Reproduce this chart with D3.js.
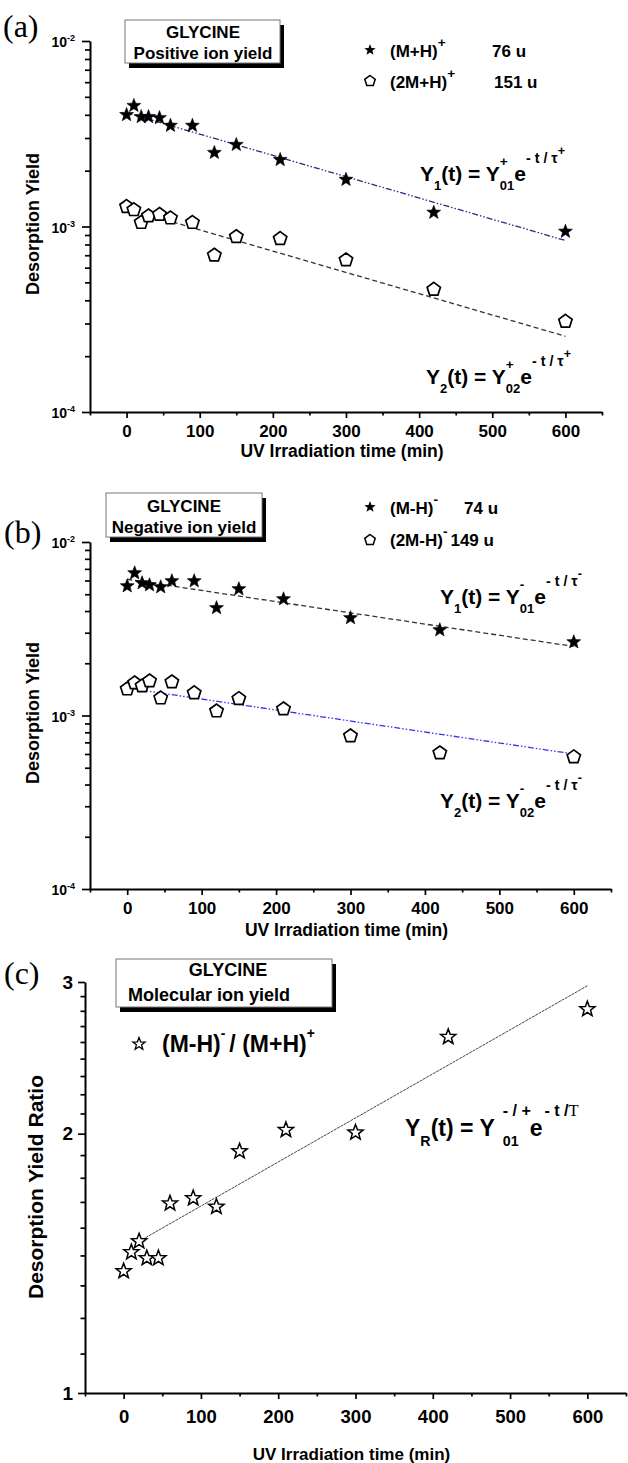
<!DOCTYPE html>
<html>
<head>
<meta charset="utf-8">
<script src="https://cdn.jsdelivr.net/npm/d3@7"></script>
<style>
  body { margin: 0; background: #fff; }
  svg text { font-family: "Liberation Sans", Arial, sans-serif; font-weight: bold; fill: #000; }
  .domain { stroke: #000; stroke-width: 2; }
  .tick line { stroke: #000; stroke-width: 1.7; }
</style>
</head>
<body>
<div id="chart"></div>
<script>
// irradiation times (min), shared by all series
const TIME = [0, 10, 20, 30, 45, 60, 90, 120, 150, 210, 300, 420, 600];

// (a) positive ions
const POS_MONO = [4.0e-3, 4.48e-3, 3.9e-3, 3.9e-3, 3.85e-3, 3.5e-3, 3.5e-3, 2.5e-3, 2.76e-3, 2.29e-3, 1.79e-3, 1.19e-3, 0.94e-3];
const POS_DIMER = [1.28e-3, 1.23e-3, 1.05e-3, 1.14e-3, 1.16e-3, 1.11e-3, 1.05e-3, 0.70e-3, 0.88e-3, 0.86e-3, 0.66e-3, 0.458e-3, 0.308e-3];
const FIT_POS_MONO = [[0, 4.1e-3], [600, 0.84e-3]];
const FIT_POS_DIMER = [[0, 1.25e-3], [600, 0.256e-3]];

// (b) negative ions
const NEG_MONO = [5.57e-3, 6.62e-3, 5.8e-3, 5.65e-3, 5.5e-3, 5.96e-3, 5.96e-3, 4.17e-3, 5.36e-3, 4.69e-3, 3.65e-3, 3.11e-3, 2.65e-3];
const NEG_DIMER = [1.42e-3, 1.54e-3, 1.48e-3, 1.58e-3, 1.26e-3, 1.56e-3, 1.35e-3, 1.06e-3, 1.25e-3, 1.09e-3, 0.762e-3, 0.608e-3, 0.577e-3];
const FIT_NEG_MONO = [[0, 6.1e-3], [600, 2.5e-3]];
const FIT_NEG_DIMER = [[0, 1.44e-3], [600, 0.6e-3]];

// (c) ratio (M-H)- / (M+H)+
const RATIO = [1.385, 1.457, 1.50, 1.434, 1.434, 1.66, 1.683, 1.645, 1.908, 2.02, 2.006, 2.59, 2.79];
const FIT_RATIO = [[20, 1.50], [600, 2.97]];

// ticks
const X_MAJOR = [0, 100, 200, 300, 400, 500, 600];
const X_MINOR = [-50, 50, 150, 250, 350, 450, 550, 650];
const LOG_MAJOR = [1e-4, 1e-3, 1e-2];
const LOG_EXP = ["-4", "-3", "-2"];
const LOG_MINOR = [2e-4, 3e-4, 4e-4, 5e-4, 6e-4, 7e-4, 8e-4, 9e-4, 2e-3, 3e-3, 4e-3, 5e-3, 6e-3, 7e-3, 8e-3, 9e-3];
const RATIO_MAJOR = [1, 2, 3];
const RATIO_MINOR = d3.range(1, 9).flatMap(k => [1 + k / 9, 2 + k / 9]);

const svg = d3.select("#chart").append("svg")
  .attr("width", 628)
  .attr("height", 1463);

// marker shapes
function starPath(R) {
  const pts = d3.range(10).map(i => {
    const r = i % 2 ? R * 0.42 : R;
    const a = -Math.PI / 2 + i * Math.PI / 5;
    return [r * Math.cos(a), r * Math.sin(a)];
  });
  return "M" + pts.join("L") + "Z";
}
function pentPath(R) {
  const pts = d3.range(5).map(i => {
    const a = -Math.PI / 2 + i * 2 * Math.PI / 5;
    return [R * Math.cos(a), R * Math.sin(a)];
  });
  return "M" + pts.join("L") + "Z";
}

// text with sub/superscripts laid out left to right
function richText(g, x, y, size, parts) {
  let cx = x, lastStart = x;
  parts.forEach(p => {
    const start = p.stack ? lastStart : cx;
    const t = g.append("text")
      .attr("x", start)
      .attr("y", y + (p.dy || 0) * size)
      .attr("font-size", size * (p.f || 1))
      .text(p.s);
    if (p.serif) t.style("font-family", "'Liberation Serif', 'Times New Roman', serif").style("font-weight", "normal");
    lastStart = start;
    cx = start + t.node().getComputedTextLength() + (p.gap || 0);
  });
}

function glycineBox(g, x, y, w, h, lines) {
  g.append("rect").attr("x", x + 4).attr("y", y + 5).attr("width", w).attr("height", h).attr("fill", "#000");
  g.append("rect").attr("x", x).attr("y", y).attr("width", w).attr("height", h)
    .attr("fill", "#fff").attr("stroke", "#777").attr("stroke-width", 1);
  lines.forEach(l => {
    g.append("text").attr("x", l.x).attr("y", l.y).attr("font-size", l.size)
      .attr("text-anchor", l.anchor || "middle").text(l.text);
  });
}

function panelLabel(txt, x, y) {
  svg.append("text").attr("x", x).attr("y", y).attr("font-size", 32)
    .style("font-family", "'Liberation Serif', 'Times New Roman', serif").style("font-weight", "normal")
    .text(txt);
}

function xAxis(x, yPos, labelBase, labelSize, titleBase, titleSize) {
  const maj = svg.append("g").attr("transform", `translate(0,${yPos})`)
    .call(d3.axisBottom(x).tickValues(X_MAJOR).tickSize(6).tickSizeOuter(0)
      .tickPadding(labelBase - 6 - labelSize * 0.71).tickFormat(d3.format("d")));
  maj.selectAll("text").attr("font-size", labelSize).attr("font-family", null);
  svg.append("g").attr("transform", `translate(0,${yPos})`)
    .call(d3.axisBottom(x).tickValues(X_MINOR).tickSize(3.5).tickFormat(""))
    .select(".domain").remove();
  const [r0, r1] = x.range();
  svg.append("text").attr("x", (r0 + r1) / 2 - 4).attr("y", yPos + titleBase)
    .attr("font-size", titleSize).attr("text-anchor", "middle")
    .text("UV Irradiation time (min)");
}

function yTitle(txt, x, y, size) {
  svg.append("text").attr("transform", `translate(${x},${y}) rotate(-90)`)
    .attr("font-size", size).attr("text-anchor", "middle").text(txt);
}

function logYAxis(y, xPos) {
  svg.append("g").attr("transform", `translate(${xPos},0)`)
    .call(d3.axisLeft(y).tickValues(LOG_MAJOR).tickSize(8).tickSizeOuter(0).tickFormat(""));
  svg.append("g").attr("transform", `translate(${xPos},0)`)
    .call(d3.axisLeft(y).tickValues(LOG_MINOR).tickSize(5).tickFormat(""))
    .select(".domain").remove();
  LOG_MAJOR.forEach((v, i) => {
    const t = svg.append("text").attr("x", xPos - 15).attr("y", y(v) + 6)
      .attr("font-size", 14).attr("text-anchor", "end");
    t.append("tspan").text("10");
    t.append("tspan").attr("dy", -6).attr("font-size", 9).text(LOG_EXP[i]);
  });
}

function drawSeries(g, x, y, vals, shape) {
  g.selectAll(null).data(d3.zip(TIME, vals)).join("path")
    .attr("transform", d => `translate(${x(d[0])},${y(d[1])})`)
    .attr("d", shape.d)
    .attr("fill", shape.fill)
    .attr("stroke", "#000")
    .attr("stroke-width", shape.sw);
}

function drawFit(g, x, y, pts, color, dash, w) {
  g.append("path").datum(pts)
    .attr("d", d3.line().x(d => x(d[0])).y(d => y(d[1])))
    .attr("fill", "none").attr("stroke", color)
    .attr("stroke-width", w).attr("stroke-dasharray", dash);
}

const FILLED_STAR = { d: starPath(7.3), fill: "#000", sw: 0.6 };
const OPEN_PENT = { d: pentPath(7), fill: "#fff", sw: 1.7 };
const OPEN_STAR = { d: starPath(8), fill: "#fff", sw: 1.5 };

// ---------- (a) ----------
{
  const x = d3.scaleLinear().domain([-50, 650]).range([90, 602]);
  const y = d3.scaleLog().domain([1e-4, 1e-2]).range([412, 41]);
  panelLabel("(a)", 3, 37);
  logYAxis(y, 90);
  xAxis(x, 412, 25, 17, 45, 17.5);
  yTitle("Desorption Yield", 39, 224, 18);
  const g = svg.append("g");
  drawFit(g, x, y, FIT_POS_MONO, "#2a2a88", "6,2,1.5,2,1.5,2", 1.3);
  drawFit(g, x, y, FIT_POS_DIMER, "#333", "5,3", 1.3);
  drawSeries(g, x, y, POS_MONO, FILLED_STAR);
  drawSeries(g, x, y, POS_DIMER, OPEN_PENT);
  glycineBox(svg, 125, 20, 155, 43, [
    { text: "GLYCINE", x: 203, y: 38, size: 17 },
    { text: "Positive ion yield", x: 203, y: 59, size: 17 }
  ]);
  svg.append("path").attr("d", starPath(6)).attr("transform", "translate(370,50)");
  svg.append("path").attr("d", pentPath(5.5)).attr("transform", "translate(370,81)")
    .attr("fill", "#fff").attr("stroke", "#000").attr("stroke-width", 1.5);
  richText(svg, 390, 57, 17, [{ s: "(M+H)" }, { s: "+", f: 0.8, dy: -0.6 }]);
  svg.append("text").attr("x", 492).attr("y", 57).attr("font-size", 17).text("76 u");
  richText(svg, 390, 88, 17, [{ s: "(2M+H)" }, { s: "+", f: 0.8, dy: -0.6 }]);
  svg.append("text").attr("x", 494).attr("y", 88).attr("font-size", 17).text("151 u");
  richText(svg, 420, 181, 21, [
    { s: "Y" }, { s: "1", f: 0.62, dy: 0.42 }, { s: "(t) = Y" },
    { s: "+", f: 0.65, dy: -0.7 }, { s: "01", f: 0.62, dy: 0.42, stack: true },
    { s: "e" }, { s: "- t / τ", f: 0.68, dy: -0.85 }, { s: "+", f: 0.6, dy: -1.25 }
  ]);
  richText(svg, 426, 384, 21, [
    { s: "Y" }, { s: "2", f: 0.62, dy: 0.42 }, { s: "(t) = Y" },
    { s: "+", f: 0.65, dy: -0.7 }, { s: "02", f: 0.62, dy: 0.42, stack: true },
    { s: "e" }, { s: "- t / τ", f: 0.68, dy: -0.85 }, { s: "+", f: 0.6, dy: -1.25 }
  ]);
}

// ---------- (b) ----------
{
  const x = d3.scaleLinear().domain([-50, 650]).range([90, 611]);
  const y = d3.scaleLog().domain([1e-4, 1e-2]).range([889, 542]);
  panelLabel("(b)", 4, 543);
  logYAxis(y, 90);
  xAxis(x, 889, 25, 17, 47, 17.5);
  yTitle("Desorption Yield", 39, 713, 18);
  const g = svg.append("g");
  drawFit(g, x, y, FIT_NEG_MONO, "#333", "5,3", 1.3);
  drawFit(g, x, y, FIT_NEG_DIMER, "#3535ee", "6,2,1.5,2,1.5,2", 1.3);
  drawSeries(g, x, y, NEG_MONO, FILLED_STAR);
  drawSeries(g, x, y, NEG_DIMER, OPEN_PENT);
  glycineBox(svg, 106, 493, 156, 44, [
    { text: "GLYCINE", x: 184, y: 512, size: 17 },
    { text: "Negative ion yield", x: 184, y: 533, size: 17 }
  ]);
  svg.append("path").attr("d", starPath(6)).attr("transform", "translate(370,507)");
  svg.append("path").attr("d", pentPath(5.5)).attr("transform", "translate(370,540)")
    .attr("fill", "#fff").attr("stroke", "#000").attr("stroke-width", 1.5);
  richText(svg, 390, 514, 17, [{ s: "(M-H)" }, { s: "-", f: 0.8, dy: -0.6 }]);
  svg.append("text").attr("x", 464).attr("y", 514).attr("font-size", 17).text("74 u");
  richText(svg, 390, 546, 17, [{ s: "(2M-H)" }, { s: "-", f: 0.8, dy: -0.6, gap: 3 }, { s: "149 u" }]);
  richText(svg, 440, 604, 21, [
    { s: "Y" }, { s: "1", f: 0.62, dy: 0.42 }, { s: "(t) = Y" },
    { s: "-", f: 0.65, dy: -0.7 }, { s: "01", f: 0.62, dy: 0.42, stack: true },
    { s: "e" }, { s: "- t / τ", f: 0.68, dy: -0.85 }, { s: "-", f: 0.6, dy: -1.25 }
  ]);
  richText(svg, 440, 808, 21, [
    { s: "Y" }, { s: "2", f: 0.62, dy: 0.42 }, { s: "(t) = Y" },
    { s: "-", f: 0.65, dy: -0.7 }, { s: "02", f: 0.62, dy: 0.42, stack: true },
    { s: "e" }, { s: "- t / τ", f: 0.68, dy: -0.85 }, { s: "-", f: 0.6, dy: -1.25 }
  ]);
}

// ---------- (c) ----------
{
  const x = d3.scaleLinear().domain([-50, 650]).range([85, 626]);
  const y = d3.scaleLog().domain([1, 3]).range([1393, 982]);
  panelLabel("(c)", 4, 984);
  svg.append("g").attr("transform", "translate(85,0)")
    .call(d3.axisLeft(y).tickValues(RATIO_MAJOR).tickSize(7).tickSizeOuter(0)
      .tickPadding(5).tickFormat(d3.format("d")))
    .selectAll("text").attr("font-size", 19).attr("font-family", null);
  svg.append("g").attr("transform", "translate(85,0)")
    .call(d3.axisLeft(y).tickValues(RATIO_MINOR).tickSize(4.5).tickFormat(""))
    .select(".domain").remove();
  xAxis(x, 1393, 30, 18.5, 67, 17);
  yTitle("Desorption Yield Ratio", 43, 1187, 21);
  const g = svg.append("g");
  drawFit(g, x, y, FIT_RATIO, "#444", "3,0.8", 1);
  drawSeries(g, x, y, RATIO, OPEN_STAR);
  glycineBox(svg, 116, 959, 216, 48, [
    { text: "GLYCINE", x: 228, y: 976, size: 18 },
    { text: "Molecular ion yield", x: 128, y: 1001, size: 18, anchor: "start" }
  ]);
  svg.append("path").attr("d", starPath(6.5)).attr("transform", "translate(139,1044)")
    .attr("fill", "#fff").attr("stroke", "#000").attr("stroke-width", 1.3);
  richText(svg, 162, 1052, 23, [
    { s: "(M-H)" }, { s: "-", f: 0.6, dy: -0.6, gap: 4 }, { s: "/ (M+H)" }, { s: "+", f: 0.6, dy: -0.6 }
  ]);
  richText(svg, 405, 1136, 23, [
    { s: "Y" }, { s: "R", f: 0.62, dy: 0.42 }, { s: "(t) = Y", gap: 8 },
    { s: "- / +", f: 0.7, dy: -0.85 }, { s: "01", f: 0.62, dy: 0.45, stack: true, gap: 11 },
    { s: "e", gap: 2 }, { s: "- t / ", f: 0.7, dy: -0.85 }, { s: "T", f: 0.72, dy: -0.85, serif: true }
  ]);
}
</script>
</body>
</html>
